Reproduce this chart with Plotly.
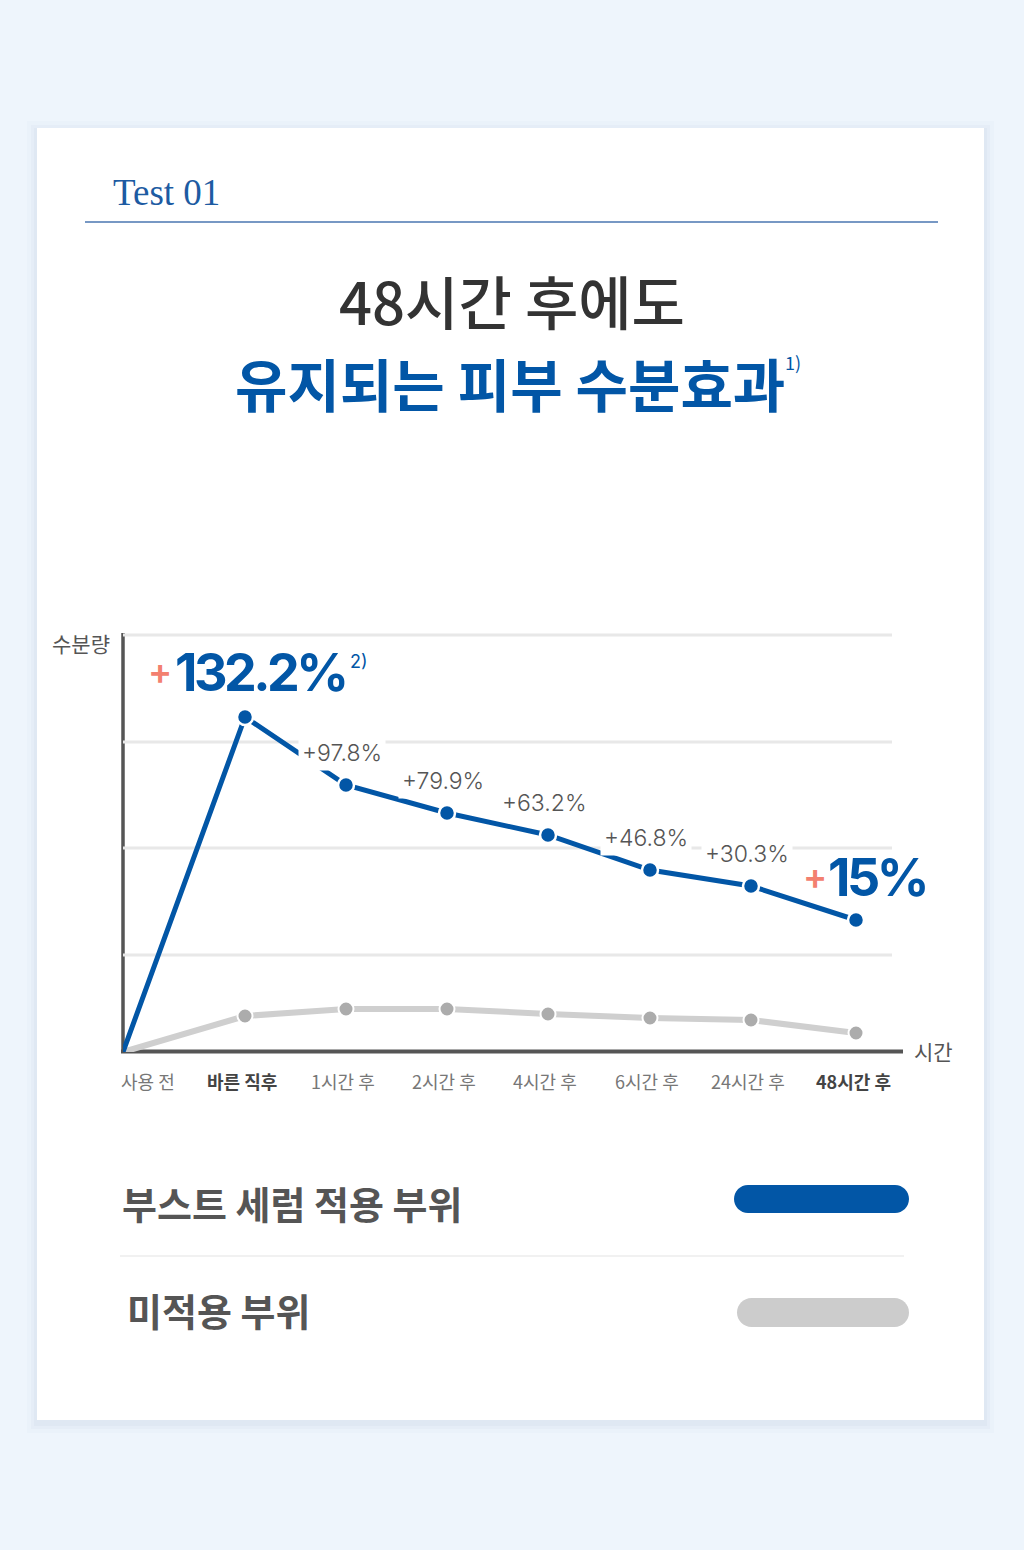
import plotly.graph_objects as go

W, H = 1024, 1550

# ---------------- data ----------------
time_labels = ["사용 전", "<b>바른 직후</b>", "1시간 후", "2시간 후", "4시간 후", "6시간 후", "24시간 후", "<b>48시간 후</b>"]
time_pos = [0, 122, 223, 324, 425, 527, 628, 733]          # horizontal position of each measurement
serum_level = [0, 335, 267, 239, 217, 182, 166, 132]          # 부스트 세럼 적용 부위 (chart units)
untreated_level = [0, 36, 43, 43, 38, 34, 32, 19]             # 미적용 부위 (chart units)
serum_change = ["", "+132.2%", "+97.8%", "+79.9%", "+63.2%", "+46.8%", "+30.3%", "+15%"]
grid_levels = [97, 204, 310, 417]

BLUE = "#0256a6"
GRAY_LINE = "#cfcfcf"
GRAY_DOT = "#acacac"
SALMON = "#f3806f"
KR = "Noto Sans CJK KR"


def X(px):
    return px / W


def Y(py):
    return 1 - py / H


fig = go.Figure()

# lines (start at origin)
fig.add_trace(go.Scatter(x=time_pos, y=untreated_level, mode="lines",
                         line=dict(color=GRAY_LINE, width=6), hoverinfo="skip", showlegend=False))
# markers (no marker at the origin)
fig.add_trace(go.Scatter(x=time_pos[1:], y=untreated_level[1:], mode="markers",
                         marker=dict(size=15, color=GRAY_DOT, line=dict(color="white", width=2)),
                         hoverinfo="skip", showlegend=False, cliponaxis=False))
fig.add_trace(go.Scatter(x=time_pos, y=serum_level, mode="lines",
                         line=dict(color=BLUE, width=5), hoverinfo="skip", showlegend=False))
fig.add_trace(go.Scatter(x=time_pos[1:], y=serum_level[1:], mode="markers",
                         marker=dict(size=16, color=BLUE, line=dict(color="white", width=2.5)),
                         hoverinfo="skip", showlegend=False, cliponaxis=False))

shapes = []
# card shadow + card
for grow, col in [(10, "rgba(170,190,215,0.05)"), (6, "rgba(170,190,215,0.07)"), (3, "rgba(170,190,215,0.09)")]:
    shapes.append(dict(type="rect", xref="paper", yref="paper",
                       x0=X(37 - grow), x1=X(984 + grow), y0=Y(1420 + grow + 3), y1=Y(128 - grow + 3),
                       fillcolor=col, line=dict(width=0), layer="below"))
shapes.append(dict(type="rect", xref="paper", yref="paper",
                   x0=X(37), x1=X(984), y0=Y(1420), y1=Y(128),
                   fillcolor="white", line=dict(width=0), layer="below"))
# Test 01 underline
shapes.append(dict(type="line", xref="paper", yref="paper", x0=X(85), x1=X(938), y0=Y(222), y1=Y(222),
                   line=dict(color="#4a76b0", width=1.3), layer="below"))
# gridlines
for g in grid_levels:
    shapes.append(dict(type="line", xref="x", yref="y", x0=0, x1=769, y0=g, y1=g,
                       line=dict(color="#e8e8e8", width=3), layer="between"))
# axes
shapes.append(dict(type="line", xref="paper", yref="paper", x0=X(121), x1=X(903), y0=Y(1051.5), y1=Y(1051.5),
                   line=dict(color="#555555", width=4), layer="between"))
shapes.append(dict(type="line", xref="paper", yref="paper", x0=X(123), x1=X(123), y0=Y(1053), y1=Y(633),
                   line=dict(color="#555555", width=3.5), layer="between"))
# legend separator
shapes.append(dict(type="line", xref="paper", yref="paper", x0=X(120), x1=X(904), y0=Y(1256), y1=Y(1256),
                   line=dict(color="#ececec", width=1.5), layer="below"))


def pill(x0, x1, yc, h, color):
    r = h / 2
    k = 0.5523 * r

    def p(a, b):
        return f"{X(a):.6f},{Y(b):.6f}"
    path = (f"M {p(x0 + r, yc - r)} L {p(x1 - r, yc - r)} "
            f"C {p(x1 - r + k, yc - r)} {p(x1, yc - k)} {p(x1, yc)} "
            f"C {p(x1, yc + k)} {p(x1 - r + k, yc + r)} {p(x1 - r, yc + r)} "
            f"L {p(x0 + r, yc + r)} "
            f"C {p(x0 + r - k, yc + r)} {p(x0, yc + k)} {p(x0, yc)} "
            f"C {p(x0, yc - k)} {p(x0 + r - k, yc - r)} {p(x0 + r, yc - r)} Z")
    return dict(type="path", xref="paper", yref="paper", path=path,
                fillcolor=color, line=dict(width=0), layer="above")


shapes.append(pill(734, 909, 1199, 28, BLUE))
shapes.append(pill(737, 909, 1312.5, 29, "#cccccc"))

ann = []
# header
ann.append(dict(text="Test 01", xref="paper", yref="paper", x=X(111), y=Y(192), xanchor="left", yanchor="middle",
                showarrow=False, font=dict(family="Liberation Serif, DejaVu Serif", size=37, color="#1d5ba2")))
ann.append(dict(text="48시간 후에도", xref="paper", yref="paper", x=X(512), y=Y(300), xanchor="center",
                yanchor="middle", showarrow=False,
                font=dict(family=KR, size=58, color="#333333", weight=500)))
ann.append(dict(text="유지되는 피부 수분효과", xref="paper", yref="paper", x=X(510), y=Y(382), xanchor="center",
                yanchor="middle", showarrow=False, font=dict(family=KR, size=57, color=BLUE, weight=700)))
ann.append(dict(text="1)", xref="paper", yref="paper", x=X(783), y=Y(362), xanchor="left",
                yanchor="middle", showarrow=False, font=dict(family=KR, size=18, color=BLUE)))

# axis titles
ann.append(dict(text="수분량", xref="paper", yref="paper", x=X(112), y=Y(643), xanchor="right", yanchor="middle",
                showarrow=False, font=dict(family=KR, size=21, color="#555555")))
ann.append(dict(text="시간", xref="paper", yref="paper", x=X(912), y=Y(1051), xanchor="left", yanchor="middle",
                showarrow=False, font=dict(family=KR, size=21, color="#555555")))

# x tick labels
for i, (xv, lab) in enumerate(zip(time_pos, time_labels)):
    bold = lab.startswith("<b>")
    ann.append(dict(text=lab, xref="x", yref="paper", x=xv, y=Y(1081),
                    xanchor="left" if i == 0 else "center", xshift=-4 if i == 0 else -3,
                    yanchor="middle", showarrow=False,
                    font=dict(family=KR, size=18, color="#444444" if bold else "#777777")))

# small value labels (white boxes)
for i in range(2, 7):
    ann.append(dict(text=serum_change[i], xref="x", yref="y", x=time_pos[i], y=serum_level[i],
                    xshift=-4, yshift=32, xanchor="center", yanchor="middle", showarrow=False,
                    bgcolor="white", borderpad=3,
                    font=dict(family="Inter, Noto Sans", size=23, color="#555555", weight=300)))

# big labels
TIGHT = "<span style='letter-spacing:-3.5px'>{}</span>"
big_font = dict(family="Inter, Noto Sans", size=52, color=BLUE, weight=700)
ann.append(dict(text="+", xref="x", yref="y", x=time_pos[1], y=serum_level[1], xshift=-85, yshift=46,
                xanchor="center", yanchor="middle", showarrow=False,
                font=dict(family="Inter", size=36, color=SALMON, weight=600)))
ann.append(dict(text=TIGHT.format(serum_change[1][1:]), xref="x", yref="y", x=time_pos[1], y=serum_level[1],
                xshift=-72, yshift=45, xanchor="left", yanchor="middle", showarrow=False, font=big_font))
ann.append(dict(text="2)", xref="x", yref="y", x=time_pos[1], y=serum_level[1], xshift=103, yshift=56,
                xanchor="left", yanchor="middle", showarrow=False,
                font=dict(family="Inter", size=18, color=BLUE)))
ann.append(dict(text="+", xref="x", yref="y", x=time_pos[7], y=serum_level[7], xshift=-41, yshift=44,
                xanchor="center", yanchor="middle", showarrow=False,
                font=dict(family="Inter", size=36, color=SALMON, weight=600)))
ann.append(dict(text=TIGHT.format(serum_change[7][1:]), xref="x", yref="y", x=time_pos[7], y=serum_level[7],
                xshift=-30, yshift=43, xanchor="left", yanchor="middle", showarrow=False, font=big_font))

# legend texts
ann.append(dict(text="부스트 세럼 적용 부위", xref="paper", yref="paper", x=X(120), y=Y(1202), xanchor="left",
                yanchor="middle", showarrow=False, font=dict(family=KR, size=38, color="#555555", weight=700)))
ann.append(dict(text="미적용 부위", xref="paper", yref="paper", x=X(125), y=Y(1309), xanchor="left",
                yanchor="middle", showarrow=False, font=dict(family=KR, size=38, color="#555555", weight=700)))

fig.update_layout(
    width=W, height=H, margin=dict(l=0, r=0, t=0, b=0),
    paper_bgcolor="#eef5fc", plot_bgcolor="rgba(0,0,0,0)",
    xaxis=dict(domain=[X(123), X(903)], range=[0, 780], visible=False, fixedrange=True),
    yaxis=dict(domain=[Y(1052), Y(633)], range=[0, 419], visible=False, fixedrange=True),
    shapes=shapes, annotations=ann, showlegend=False,
)

fig.write_html("out.html")
